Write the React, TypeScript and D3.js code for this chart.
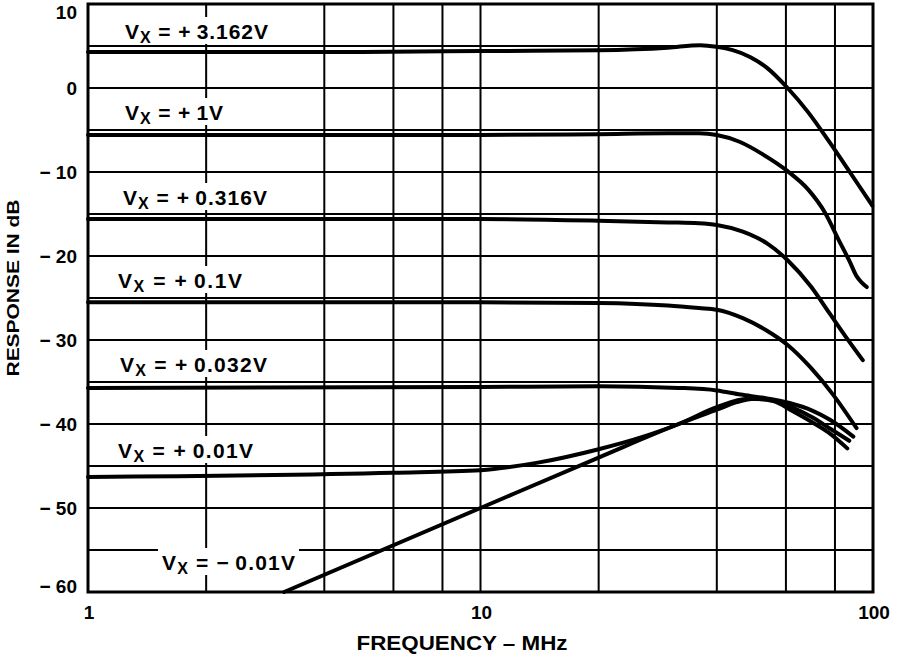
import * as d3 from 'd3';
import { useEffect, useRef } from 'react';

// frequency in MHz, response in dB
const freq3162 = [1, 5, 10, 20, 30, 36.3, 40, 43.9, 48.6, 53.7, 60.6, 68.4, 77.1, 86.7, 97.3, 99.6];
const db3162 = [4.3, 4.3, 4.4, 4.5, 4.8, 5.1, 4.9, 4.5, 3.7, 2.4, 0, -2.9, -6.3, -9.8, -13.3, -14.0];

const freq1 = [1, 10, 20, 30, 36, 40, 45.7, 52.4, 60.6, 68.4, 75.6, 81.8, 87.3, 90.8, 93.8, 96.4];
const db1 = [-5.6, -5.6, -5.5, -5.4, -5.4, -5.6, -6.4, -7.9, -9.9, -12.1, -14.9, -18.1, -20.7, -22.4, -23.2, -23.7];

const freq0316 = [1, 10, 20, 30, 36, 40, 46.6, 53.7, 60.6, 69.4, 77.7, 85.8, 94.2];
const db0316 = [-15.6, -15.6, -15.8, -16.0, -16.1, -16.3, -17.1, -18.5, -20.5, -23.6, -26.9, -29.8, -32.4];

const freq01 = [1, 10, 20, 30, 36, 40, 46.6, 53.7, 60.6, 69.4, 79.1, 90.8];
const db01 = [-25.5, -25.5, -25.6, -25.9, -26.2, -26.4, -27.4, -28.9, -30.6, -33.3, -36.5, -40.5];

const freq0032 = [1, 10, 20, 32, 40, 46, 53, 61.3, 70, 77.7, 89.1];
const db0032 = [-35.7, -35.6, -35.5, -35.7, -36.0, -36.5, -36.9, -37.5, -38.4, -39.5, -41.5];

const freq001 = [1, 6, 10, 14, 20, 26, 32, 40, 48, 55, 62, 70, 78, 87];
const db001 = [-46.3, -45.8, -45.5, -44.6, -43.0, -41.5, -40.0, -38.0, -37.0, -37.1, -38.0, -39.2, -40.6, -42.0];

const freqNeg001 = [3.16, 10, 20, 32, 40, 45, 50, 56, 62, 70, 78, 86];
const dbNeg001 = [-60, -50, -44, -40, -38.3, -37.4, -37.0, -37.3, -38.4, -39.8, -41.2, -42.9];

const seriesLabels = ['+\u20093.162V', '+\u20091V', '+\u20090.316V', '+\u20090.1V', '+\u20090.032V', '+\u20090.01V', '\u2212\u20090.01V'];

const yTicks = [10, 0, -10, -20, -30, -40, -50, -60];
const yGrid = [5, 0, -5, -10, -15, -20, -25, -30, -35, -40, -45, -50, -55];
const xGrid = [2, 4, 6, 8, 10, 20, 40, 60, 80];
const xTicks = [1, 10, 100];

const FONT = '"Liberation Sans", Arial, Helvetica, sans-serif';

export default function App(): React.ReactElement {
  const svgRef = useRef<SVGSVGElement>(null);

  useEffect(() => {
    if (!svgRef.current) return;
    const svg = d3.select(svgRef.current);
    svg.selectAll('*').remove();

    const x = d3.scaleLog().domain([1, 100]).range([88, 873]);
    const y = d3.scaleLinear().domain([-60, 10]).range([592, 4]);

    svg.append('rect').attr('width', 900).attr('height', 667).attr('fill', '#fff');

    // grid
    svg
      .selectAll('.hgrid')
      .data(yGrid)
      .enter()
      .append('line')
      .attr('x1', x(1))
      .attr('x2', x(100))
      .attr('y1', (d) => y(d))
      .attr('y2', (d) => y(d))
      .attr('stroke', '#000')
      .attr('stroke-width', 2);

    svg
      .selectAll('.vgrid')
      .data(xGrid)
      .enter()
      .append('line')
      .attr('x1', (d) => x(d))
      .attr('x2', (d) => x(d))
      .attr('y1', y(10))
      .attr('y2', y(-60))
      .attr('stroke', '#000')
      .attr('stroke-width', 2);

    // curve labels with white boxes
    const labelPos = [
      { x: 125, y: 39 },
      { x: 125, y: 120 },
      { x: 123, y: 205 },
      { x: 118, y: 288 },
      { x: 120, y: 372 },
      { x: 118, y: 458 },
      { x: 162, y: 570 },
    ];
    const labelWidths = [143, 98, 144, 124, 147, 135, 133];

    seriesLabels.forEach((lab, i) => {
      const p = labelPos[i];
      const g = svg.append('g');
      const box = g.append('rect').attr('fill', '#fff');
      const t = g
        .append('text')
        .attr('x', p.x)
        .attr('y', p.y)
        .attr('font-family', FONT)
        .attr('font-weight', 'bold')
        .attr('font-size', 21)
        .attr('textLength', labelWidths[i])
        .attr('lengthAdjust', 'spacing')
        .attr('fill', '#000');
      t.append('tspan').text('V');
      t.append('tspan').attr('font-size', 16).attr('dy', 4).text('X');
      t.append('tspan').attr('dy', -4).text(` = ${lab}`);
      const bb = (t.node() as SVGTextElement).getBBox();
      box
        .attr('x', bb.x - 4)
        .attr('y', p.y - 22)
        .attr('width', bb.width + 8)
        .attr('height', 27);
    });

    // curves
    const line = d3
      .line<[number, number]>()
      .x((d) => x(d[0]))
      .y((d) => y(d[1]))
      .curve(d3.curveMonotoneX);

    const series: [number[], number[]][] = [
      [freq3162, db3162],
      [freq1, db1],
      [freq0316, db0316],
      [freq01, db01],
      [freq0032, db0032],
      [freq001, db001],
      [freqNeg001, dbNeg001],
    ];

    series.forEach(([f, v]) => {
      svg
        .append('path')
        .datum(f.map((d, i) => [d, v[i]] as [number, number]))
        .attr('d', line)
        .attr('fill', 'none')
        .attr('stroke', '#000')
        .attr('stroke-width', 4)
        .attr('stroke-linecap', 'round');
    });

    // frame
    svg
      .append('rect')
      .attr('x', x(1))
      .attr('y', y(10))
      .attr('width', x(100) - x(1))
      .attr('height', y(-60) - y(10))
      .attr('fill', 'none')
      .attr('stroke', '#000')
      .attr('stroke-width', 3);

    // y tick labels
    svg
      .selectAll('.ylab')
      .data(yTicks)
      .enter()
      .append('text')
      .attr('x', 77)
      .attr('y', (d) => Math.min(Math.max(y(d) + 7, 19), 593))
      .attr('text-anchor', 'end')
      .attr('font-family', FONT)
      .attr('font-weight', 'bold')
      .attr('font-size', 19)
      .text((d) => (d < 0 ? `\u2212 ${-d}` : `${d}`));

    // x tick labels
    svg
      .selectAll('.xlab')
      .data(xTicks)
      .enter()
      .append('text')
      .attr('x', (d) => x(d) + 1)
      .attr('y', 619)
      .attr('text-anchor', 'middle')
      .attr('font-family', FONT)
      .attr('font-weight', 'bold')
      .attr('font-size', 19)
      .text((d) => `${d}`);

    // axis titles
    svg
      .append('text')
      .attr('x', 462)
      .attr('y', 650)
      .attr('text-anchor', 'middle')
      .attr('font-family', FONT)
      .attr('font-weight', 'bold')
      .attr('font-size', 20)
      .attr('textLength', 211)
      .attr('lengthAdjust', 'spacingAndGlyphs')
      .text('FREQUENCY \u2013 MHz');

    svg
      .append('text')
      .attr('transform', 'translate(19, 288) rotate(-90)')
      .attr('text-anchor', 'middle')
      .attr('font-family', FONT)
      .attr('font-weight', 'bold')
      .attr('font-size', 17)
      .attr('textLength', 177)
      .attr('lengthAdjust', 'spacingAndGlyphs')
      .text('RESPONSE IN dB');
  }, []);

  return (
    <div style={{ position: 'absolute', left: 0, top: 0 }}>
      <svg ref={svgRef} width={900} height={667} />
    </div>
  );
}
